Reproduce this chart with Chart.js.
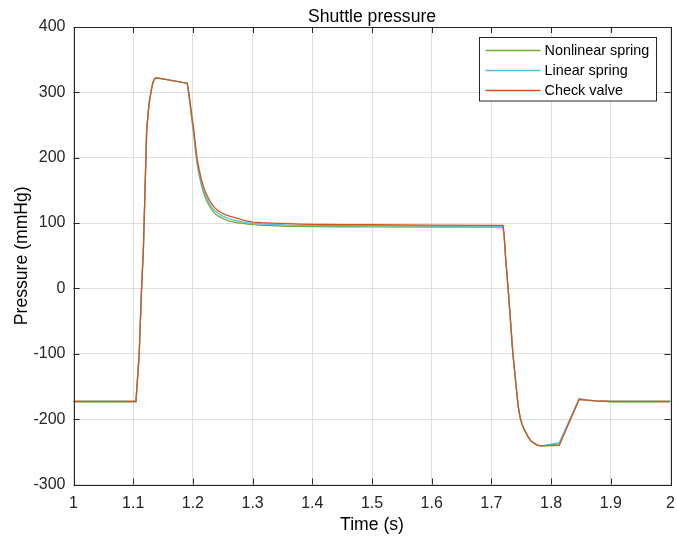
<!DOCTYPE html>
<html>
<head>
<meta charset="utf-8">
<script src="https://cdn.jsdelivr.net/npm/chart.js@4.4.1/dist/chart.umd.min.js"></script>
<style>
  html, body { margin: 0; padding: 0; background: #fff; }
  #wrap { width: 677px; height: 541px; }
</style>
</head>
<body>
<div id="wrap"><canvas id="pressureChart" width="677" height="541"></canvas></div>
<script>
// Shuttle pressure traces (time in s, pressure in mmHg)
const timeS = [1.0, 1.1046, 1.110, 1.114, 1.117, 1.1225, 1.125, 1.127, 1.130, 1.133, 1.136, 1.140,
  1.1905, 1.193, 1.196, 1.1985, 1.201, 1.204, 1.207, 1.2105, 1.214, 1.218,
  1.222, 1.2265, 1.231, 1.236, 1.242, 1.248, 1.254, 1.260, 1.267, 1.275,
  1.283, 1.292, 1.301, 1.315, 1.33, 1.345, 1.36, 1.38, 1.40, 1.45, 1.50, 1.60,
  1.7195, 1.7215, 1.724, 1.728, 1.736, 1.742, 1.745, 1.748, 1.751, 1.754, 1.758, 1.762,
  1.766, 1.7705, 1.775, 1.780, 1.785, 1.8137, 1.847, 1.86, 1.875, 1.90, 2.0];

const nonlinearSpring = [-173, -173, -101, 0, 58, 240, 268, 285, 302, 315, 321, 322,
  314, 298, 276, 256, 239, 213, 190, 173, 159, 146,
  136, 128, 121, 115.5, 111, 108, 105.5, 103.5, 102, 100.5,
  99.5, 98.5, 97.5, 96.5, 96, 95.5, 95, 94.8, 94.6, 94.4, 94.2, 94,
  94, 78, 43, 0, -100, -155, -181, -197, -207, -214, -221, -228,
  -233, -236, -239, -240.5, -241, -238, -169.5, -171, -172, -173, -173];

const linearSpring = [-173, -173, -101, 0, 58, 240, 268, 285, 302, 315, 321, 322,
  314, 299, 278, 259, 243, 217, 194, 177, 163, 150,
  140, 132, 125, 119.5, 115, 111.5, 109, 107, 105, 103.5,
  102, 100.5, 99.5, 98.5, 98, 97.5, 97, 96.5, 96.3, 96, 96, 95.8,
  95.5, 79, 44, 0, -100, -155, -181, -197, -207, -214, -221, -228,
  -233, -236, -239, -240.5, -241, -236, -168.5, -171, -172, -173, -173];

const checkValve = [-173, -173, -101, 0, 58, 240, 268, 285, 302, 315, 321, 322,
  314, 300, 280, 262, 247, 222, 199, 182, 168, 155,
  145, 137, 130, 124, 119, 115.5, 113, 111, 109, 107,
  105, 103, 101.5, 100.5, 100, 99.5, 99, 98.5, 98, 97.7, 97.5, 97,
  96.5, 80, 45, 0, -100, -155, -181, -197, -207, -214, -221, -228,
  -233, -236, -239, -240.5, -241, -240, -170, -171, -172, -173, -173];

const seriesNames = ['Nonlinear spring', 'Linear spring', 'Check valve'];
const seriesColors = ['#77AC30', '#4DBEEE', '#D95319'];

const FONT = "Arial, 'Liberation Sans', Helvetica, sans-serif";
const INK = '#262626';

function toPoints(values) {
  return timeS.map((t, i) => ({ x: t, y: values[i] }));
}

// box outline, inward tick marks, title and legend
const matlabAxes = {
  id: 'matlabAxes',
  afterDraw(chart) {
    const ctx = chart.ctx;
    const a = chart.chartArea;
    const xs = chart.scales.x;
    const ys = chart.scales.y;
    const tickLen = 6;
    ctx.save();
    ctx.strokeStyle = INK;
    ctx.lineWidth = 1;
    ctx.beginPath();
    xs.ticks.forEach(t => {
      const px = Math.round(xs.getPixelForValue(t.value)) + 0.5;
      ctx.moveTo(px, a.bottom); ctx.lineTo(px, a.bottom - tickLen);
      ctx.moveTo(px, a.top); ctx.lineTo(px, a.top + tickLen);
    });
    ys.ticks.forEach(t => {
      const py = Math.round(ys.getPixelForValue(t.value)) + 0.5;
      ctx.moveTo(a.left, py); ctx.lineTo(a.left + tickLen, py);
      ctx.moveTo(a.right, py); ctx.lineTo(a.right - tickLen, py);
    });
    ctx.stroke();
    ctx.strokeRect(Math.round(a.left) + 0.5, Math.round(a.top) + 0.5,
      Math.round(a.right - a.left), Math.round(a.bottom - a.top));

    // title
    ctx.fillStyle = '#000';
    ctx.font = '17.6px ' + FONT;
    ctx.textAlign = 'center';
    ctx.textBaseline = 'alphabetic';
    ctx.fillText('Shuttle pressure', (a.left + a.right) / 2, 21.5);

    // legend
    const lx = 479.5, ly = 37.5, lw = 177, lh = 63.5;
    ctx.fillStyle = '#fff';
    ctx.fillRect(lx, ly, lw, lh);
    ctx.strokeStyle = INK;
    ctx.strokeRect(lx, ly, lw, lh);
    ctx.font = '14.4px ' + FONT;
    ctx.textAlign = 'left';
    ctx.textBaseline = 'middle';
    chart.data.datasets.forEach((ds, i) => {
      const y = ly + 13 + i * 20;
      ctx.strokeStyle = ds.borderColor;
      ctx.lineWidth = 1.3;
      ctx.beginPath();
      ctx.moveTo(lx + 6, y); ctx.lineTo(lx + 61, y);
      ctx.stroke();
      ctx.fillStyle = '#000';
      ctx.fillText(ds.label, lx + 65, y + 0.5);
    });
    ctx.restore();
  }
};

const chartCtx = document.getElementById('pressureChart').getContext('2d');
const pressureChart = new Chart(chartCtx, {
  type: 'line',
  data: {
    datasets: [nonlinearSpring, linearSpring, checkValve].map((vals, i) => ({
      label: seriesNames[i],
      data: toPoints(vals),
      borderColor: seriesColors[i],
      borderWidth: 1.3,
      pointRadius: 0,
      fill: false,
      tension: 0,
      order: 2 - i
    }))
  },
  options: {
    responsive: false,
    animation: false,
    layout: { padding: { top: 27, right: 6.5, left: 0, bottom: 0 } },
    plugins: {
      legend: { display: false },
      title: { display: false },
      tooltip: { enabled: false }
    },
    scales: {
      x: {
        type: 'linear',
        min: 1,
        max: 2,
        afterFit: s => { s.height = 56.5; s.paddingLeft = 0; s.paddingRight = 0; },
        grid: { color: '#dedede', drawTicks: false },
        border: { display: false },
        ticks: {
          stepSize: 0.1,
          padding: 9,
          color: INK,
          font: { family: FONT, size: 16 },
          maxRotation: 0,
          callback: v => String(Number(v.toFixed(1)))
        },
        title: {
          display: true,
          text: 'Time (s)',
          color: '#000',
          font: { family: FONT, size: 17.6 },
          padding: { top: 0, bottom: 5 }
        }
      },
      y: {
        min: -300,
        max: 400,
        afterFit: s => { s.width = 73.5; },
        grid: { color: '#dedede', drawTicks: false },
        border: { display: false },
        ticks: {
          stepSize: 100,
          padding: 8,
          color: INK,
          font: { family: FONT, size: 16 }
        },
        title: {
          display: true,
          text: 'Pressure (mmHg)',
          color: '#000',
          font: { family: FONT, size: 17.6 },
          padding: { top: 12, bottom: 0 }
        }
      }
    }
  },
  plugins: [matlabAxes]
});
</script>
</body>
</html>
